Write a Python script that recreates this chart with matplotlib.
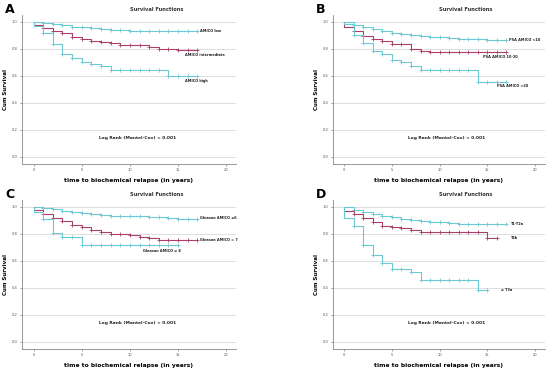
import matplotlib.pyplot as plt

CYAN = "#6cc8d2"
MAROON = "#a8406c"

# survival estimates at t = 0, 1, 2, ... (years); curve starts at 1.0
a_low = [1.0, 0.99, 0.985, 0.975, 0.965, 0.96, 0.955, 0.945, 0.94, 0.94, 0.935,
         0.93, 0.93, 0.93, 0.93, 0.93, 0.93, 0.93]
a_int = [0.98, 0.955, 0.93, 0.915, 0.89, 0.875, 0.86, 0.85, 0.84, 0.83, 0.83,
         0.825, 0.81, 0.80, 0.80, 0.79, 0.79, 0.79]
a_high = [0.97, 0.915, 0.835, 0.76, 0.73, 0.70, 0.685, 0.67, 0.64, 0.64, 0.64,
          0.64, 0.64, 0.64, 0.595, 0.595, 0.595, 0.595]

b_lo = [1.0, 0.98, 0.96, 0.945, 0.93, 0.92, 0.91, 0.905, 0.895, 0.89, 0.885,
        0.88, 0.875, 0.87, 0.87, 0.865, 0.865, 0.865]
b_mid = [0.965, 0.93, 0.895, 0.87, 0.855, 0.835, 0.835, 0.80, 0.785, 0.78, 0.78,
         0.78, 0.78, 0.78, 0.78, 0.78, 0.78, 0.78]
b_hi = [0.985, 0.90, 0.84, 0.785, 0.765, 0.72, 0.70, 0.675, 0.645, 0.645, 0.645,
        0.645, 0.645, 0.645, 0.555, 0.555, 0.555, 0.555]

c_le6 = [1.0, 0.99, 0.985, 0.97, 0.96, 0.955, 0.945, 0.94, 0.935, 0.93, 0.93,
         0.93, 0.925, 0.925, 0.92, 0.91, 0.91, 0.91]
c_eq7 = [0.975, 0.95, 0.915, 0.895, 0.865, 0.85, 0.83, 0.815, 0.80, 0.795, 0.79,
         0.78, 0.77, 0.755, 0.755, 0.755, 0.755, 0.755]
c_ge8 = [0.96, 0.91, 0.805, 0.78, 0.78, 0.715, 0.715, 0.715, 0.715, 0.715, 0.715,
         0.715, 0.715, 0.715, 0.715, 0.715]

d_t12 = [1.0, 0.98, 0.965, 0.95, 0.935, 0.925, 0.91, 0.905, 0.895, 0.89, 0.885,
         0.88, 0.875, 0.87, 0.87, 0.87, 0.87, 0.87]
d_t2b = [0.97, 0.95, 0.92, 0.885, 0.855, 0.85, 0.84, 0.83, 0.815, 0.815, 0.815,
         0.815, 0.815, 0.815, 0.815, 0.77, 0.77]
d_t3 = [0.915, 0.855, 0.72, 0.645, 0.58, 0.54, 0.54, 0.52, 0.46, 0.46, 0.46,
        0.46, 0.46, 0.46, 0.38, 0.38]

panels = [
    ("A", [0.04, 0.557, 0.389, 0.402],
     [(a_low, CYAN, "AMICO low", 17.3, 0.93),
      (a_int, MAROON, "AMICO intermediate", 15.7, 0.755),
      (a_high, CYAN, "AMICO high", 15.7, 0.56)]),
    ("B", [0.605, 0.557, 0.385, 0.402],
     [(b_lo, CYAN, "PSA AMICO <10", 17.3, 0.865),
      (b_mid, MAROON, "PSA AMICO 10-20", 14.5, 0.74),
      (b_hi, CYAN, "PSA AMICO >20", 16.0, 0.525)]),
    ("C", [0.04, 0.057, 0.389, 0.402],
     [(c_le6, CYAN, "Gleason AMICO \u22646", 17.3, 0.914),
      (c_eq7, MAROON, "Gleason AMICO = 7", 17.3, 0.755),
      (c_ge8, CYAN, "Gleason AMICO \u2265 8", 11.4, 0.67)]),
    ("D", [0.605, 0.057, 0.385, 0.402],
     [(d_t12, CYAN, "T1-T2a", 17.5, 0.87),
      (d_t2b, MAROON, "T2b", 17.5, 0.77),
      (d_t3, CYAN, "\u2265 T3a", 16.4, 0.38)]),
]

fig = plt.figure(figsize=(5.5, 3.7), dpi=100)

for letter, rect, curves in panels:
    ax = fig.add_axes(rect)
    for surv, col, lab, lx, ly in curves:
        t = [0] + list(range(len(surv)))
        s = [1.0] + surv
        ax.step(t, s, where="post", color=col, lw=0.8)
        ax.plot(t[2:], s[2:], ls="none", marker="+", ms=2.5, mew=0.6, color=col)
        ax.text(lx, ly, lab, fontsize=2.5, fontweight="bold", va="center", ha="left", color="#222222")
    ax.set_xlim(-1.2, 21)
    ax.set_ylim(-0.055, 1.05)
    ax.set_xticks([0, 5, 10, 15, 20])
    ax.set_yticks([0.0, 0.2, 0.4, 0.6, 0.8, 1.0])
    ax.set_yticklabels(["0.0", "0.2", "0.4", "0.6", "0.8", "1.0"])
    ax.tick_params(labelsize=2.6, length=1.5, width=0.4, colors="#555555", pad=1.5)
    ax.yaxis.grid(True, color="#d8d8d8", lw=0.6)
    ax.set_axisbelow(True)
    for side in ["top", "right"]:
        ax.spines[side].set_visible(False)
    for side in ["left", "bottom"]:
        ax.spines[side].set_color("#888888")
        ax.spines[side].set_linewidth(0.6)
    ax.set_ylabel("Cum Survival", fontsize=4, fontweight="bold", labelpad=3)
    ax.set_xlabel("time to biochemical relapse (in years)", fontsize=4.3, fontweight="bold", labelpad=4)
    ax.text(0.63, 1.04, "Survival Functions", transform=ax.transAxes, fontsize=3.7,
            fontweight="bold", ha="center", va="center", color="#333333")
    ax.text(0.54, 0.14, "Log Rank (Mantel-Cox) < 0.001", transform=ax.get_yaxis_transform(),
            fontsize=3.2, fontweight="bold", ha="center", va="center", color="#222222")
    ax.text(-0.055, 1.035, letter, transform=ax.transAxes, fontsize=9, fontweight="bold",
            ha="center", va="center")

fig.savefig("out.png", dpi=100)
